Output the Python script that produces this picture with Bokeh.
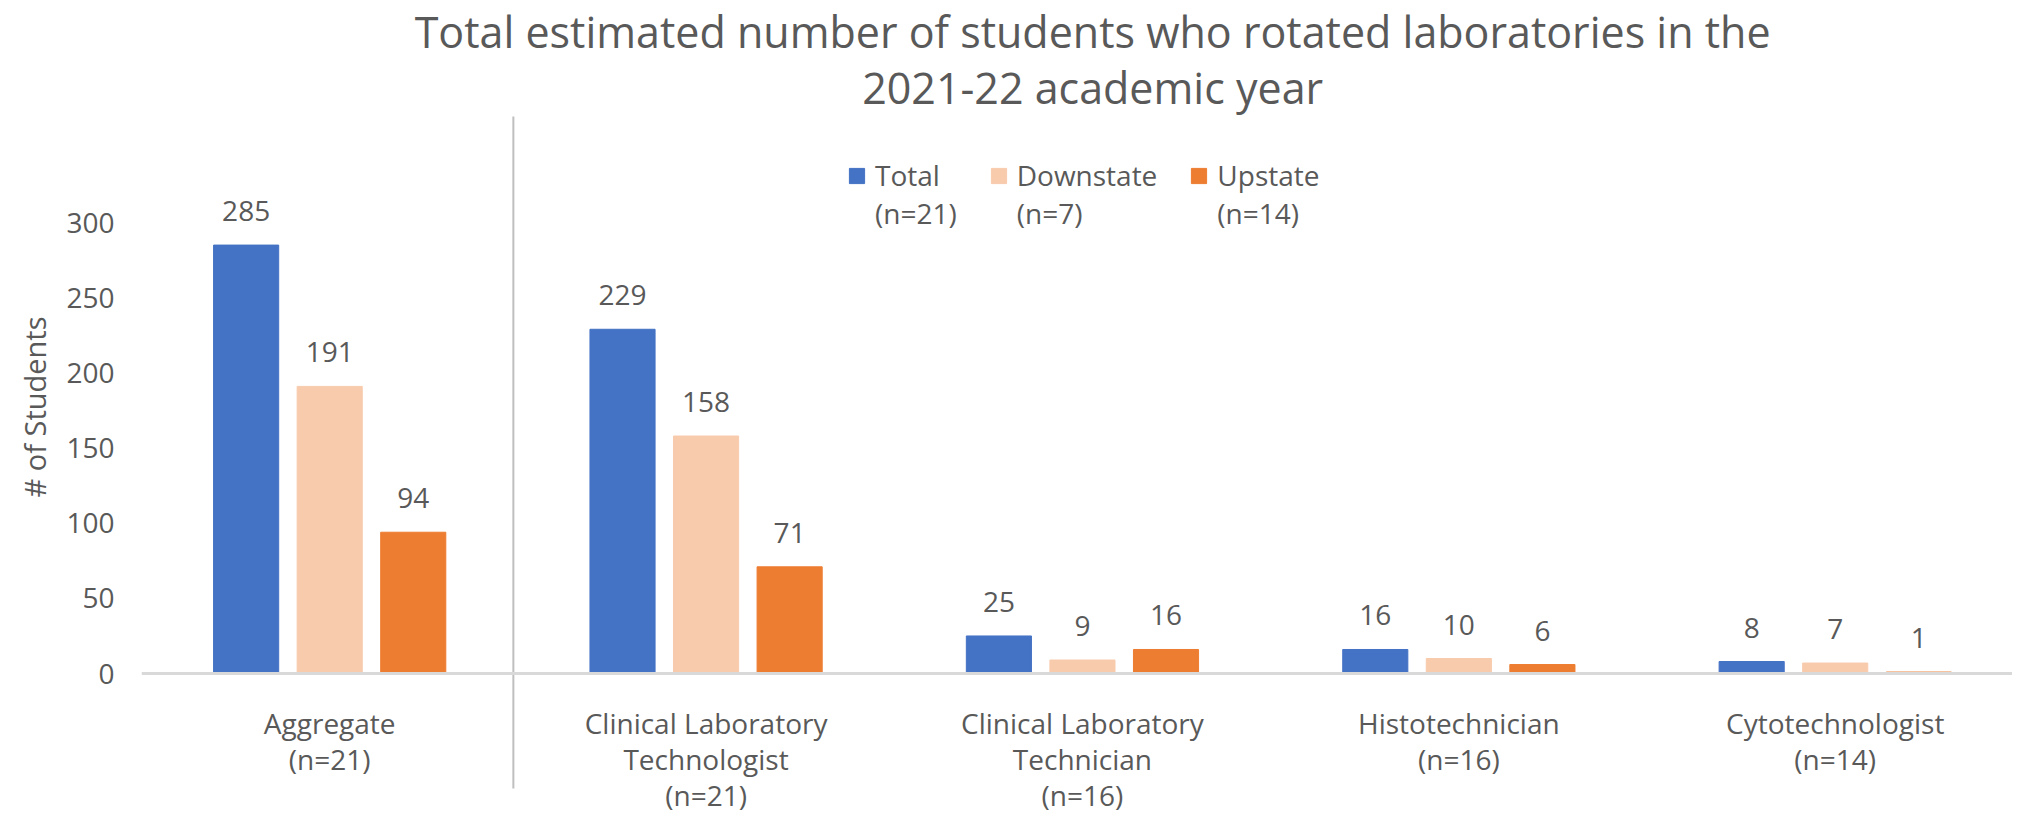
from bokeh.plotting import figure
from bokeh.models import (Range1d, FixedTicker, Span, Label, Legend, LegendItem,
                          ColumnDataSource)
from bokeh.core.properties import value
from bokeh.embed import file_html
from bokeh.resources import INLINE

# ---------------- data ----------------
categories = ["Aggregate\n(n=21)",
              "Clinical Laboratory\nTechnologist\n(n=21)",
              "Clinical Laboratory\nTechnician\n(n=16)",
              "Histotechnician\n(n=16)",
              "Cytotechnologist\n(n=14)"]
series_names = ["Total", "Downstate", "Upstate"]
series_n = ["(n=21)", "(n=7)", "(n=14)"]
total = [285, 229, 25, 16, 8]
downstate = [191, 158, 9, 10, 7]
upstate = [94, 71, 16, 6, 1]
y_ticks = [0, 50, 100, 150, 200, 250, 300]
title_lines = ["Total estimated number of students who rotated laboratories in the",
               "2021-22 academic year"]
y_title = "# of Students"

# ---------------- style ----------------
colors = ["#4472C4", "#F8CBAD", "#ED7D31"]
TXT = "#595959"
FONT = "Open Sans"
offsets = [-0.222, 0.0, 0.222]
bar_w = 0.173

W, H = 2012, 813
p = figure(width=W, height=H, output_backend="svg", toolbar_location=None,
           x_range=Range1d(-0.5, 4.471), y_range=Range1d(-93.1, 447.7),
           min_border_left=141, min_border_right=0, min_border_top=0,
           min_border_bottom=0)
p.outline_line_color = None
p.grid.visible = False
p.xaxis.visible = False
p.background_fill_color = "white"
p.border_fill_color = "white"

yax = p.yaxis[0]
yax.ticker = FixedTicker(ticks=y_ticks)
yax.axis_line_color = None
yax.major_tick_line_color = None
yax.major_tick_out = 0
yax.major_tick_in = 0
yax.minor_tick_line_color = None
yax.minor_tick_out = 0
yax.major_label_standoff = 27
yax.major_label_text_font = FONT
yax.major_label_text_font_size = "28px"
yax.major_label_text_color = TXT
yax.axis_label = y_title
yax.axis_label_text_font = FONT
yax.axis_label_text_font_size = "29px"
yax.axis_label_text_font_style = "normal"
yax.axis_label_text_color = TXT
yax.axis_label_standoff = 9

# baseline axis line
p.add_layout(Span(location=0, dimension="width", line_color="#D9D9D9", line_width=3))

# divider between aggregate and the rest
p.segment(x0=[0.488], y0=[-76.5], x1=[0.488], y1=[370.5],
          line_color="#BFBFBF", line_width=2)

xs = list(range(len(categories)))
renderers = []
for k, vals in enumerate([total, downstate, upstate]):
    src = ColumnDataSource(dict(x=[i + offsets[k] for i in xs], top=vals,
                                lab=[str(v) for v in vals]))
    r = p.vbar(x="x", top="top", width=bar_w, source=src, fill_color=colors[k],
               line_color=colors[k], line_width=1)
    renderers.append(r)
    p.text(x="x", y="top", text="lab", source=src, y_offset=-34,
           text_align="center", text_baseline="middle",
           text_font=value(FONT), text_font_size="28px", text_color=TXT)

# category labels
csrc = ColumnDataSource(dict(x=xs, y=[0] * len(xs), t=categories))
p.text(x="x", y="y", text="t", source=csrc, y_offset=30, text_align="center",
       text_baseline="top", text_font=value(FONT), text_font_size="28px",
       text_color=TXT, text_line_height=0.95)

# title
for txt, yy in zip(title_lines, [427.1, 389.8]):
    p.add_layout(Label(x=2.027, y=yy, text=txt, text_align="center",
                       text_baseline="alphabetic", text_font=FONT,
                       text_font_size="43px", text_color=TXT))

# legend: leading blank line keeps the swatch level with the series name
legend = Legend(items=[LegendItem(label="\n" + series_names[k] + "\n" + series_n[k],
                                  renderers=[renderers[k]]) for k in range(3)],
                orientation="horizontal", location=(706, 581),
                glyph_width=19, glyph_height=19, label_standoff=9, spacing=32,
                padding=0, margin=0, border_line_color=None,
                background_fill_alpha=0, label_text_font=FONT,
                label_text_font_size="28px", label_text_color=TXT)
p.add_layout(legend)

open("out.html", "w").write(file_html(p, INLINE))
